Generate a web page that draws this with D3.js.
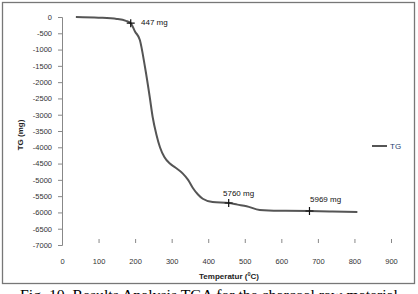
<!DOCTYPE html>
<html><head><meta charset="utf-8">
<script src="https://cdn.jsdelivr.net/npm/d3@7"></script>
<style>body{margin:0;background:#fff}svg{display:block}</style>
</head><body>
<svg id="c" width="418" height="294"></svg>
<script>
const temps = [38,100,150,175,188,200,213,227,240,248,258,268,280,295,310,330,345,358,372,385,412,456,480,505,541,595,677,740,808];
const tg    = [0,-20,-60,-120,-190,-450,-706,-1535,-2456,-3070,-3600,-4000,-4300,-4500,-4620,-4800,-5000,-5250,-5450,-5580,-5680,-5710,-5760,-5810,-5925,-5950,-5956,-5970,-5985];
const markerT = [188,456,677];
const markerV = [-190,-5710,-5956];
const markerLabels = ["447 mg","5760 mg","5969 mg"];
const xTicks = [0,100,200,300,400,500,600,700,800,900];
const yTicks = [0,-500,-1000,-1500,-2000,-2500,-3000,-3500,-4000,-4500,-5000,-5500,-6000,-6500,-7000];
const seriesName = "TG";
const xTitle = "Temperatur (";
const yTitle = "TG (mg)";
const caption = "Fig. 10. Results Analysis TGA for the charcoal raw material";

const svg = d3.select("#c");
const x = d3.scaleLinear().domain([0,900]).range([62,391]);
const y = d3.scaleLinear().domain([0,-7000]).range([17,245]);
const font = "'Liberation Sans', Arial, sans-serif";

svg.append("rect").attr("x",2.5).attr("y",2.5).attr("width",412).attr("height",281)
  .attr("fill","none").attr("stroke","#777").attr("stroke-width",1.3);

// y axis
const ya = svg.append("g").attr("transform","translate(62,0)")
  .call(d3.axisLeft(y).tickValues(yTicks).tickSize(4).tickPadding(6).tickFormat(d=>d));
ya.selectAll("path").attr("stroke","#888");
ya.selectAll("line").attr("stroke","#888");
ya.selectAll("text").attr("font-family",font).attr("font-size",7.5).attr("fill","#333");

// x ticks (no axis line)
const xa = svg.append("g").attr("transform","translate(0,243)")
  .call(d3.axisBottom(x).tickValues(xTicks).tickSize(4).tickPadding(12).tickFormat(d=>d));
xa.select("path").remove();
xa.selectAll("line").attr("stroke","#888").attr("transform","translate(0,-4)");
xa.selectAll("text").attr("font-family",font).attr("font-size",7.5).attr("fill","#333");

// titles
const xt = svg.append("text").attr("x",229).attr("y",279).attr("text-anchor","middle")
  .attr("font-family",font).attr("font-size",8).attr("font-weight","bold").attr("fill","#222");
xt.append("tspan").text(xTitle);
xt.append("tspan").attr("dy",-3).attr("font-size",5.5).text("0");
xt.append("tspan").attr("dy",3).text("C)");

svg.append("text").attr("transform","translate(23,135) rotate(-90)").attr("text-anchor","middle")
  .attr("font-family",font).attr("font-size",8).attr("font-weight","bold").attr("fill","#222").text(yTitle);

// line
const line = d3.line().x((d,i)=>x(temps[i])).y(d=>y(d)).curve(d3.curveMonotoneX);
svg.append("path").datum(tg).attr("d",line).attr("fill","none").attr("stroke","#555").attr("stroke-width",2);

// markers
markerT.forEach((t,i)=>{
  const px = x(t), py = y(markerV[i]);
  svg.append("path").attr("d",`M${px-4},${py}H${px+4}M${px},${py-4}V${py+4}`).attr("stroke","#111").attr("stroke-width",1.2);
});
const labelPos = [[141,25],[223,196],[310,202]];
markerLabels.forEach((t,i)=>{
  svg.append("text").attr("x",labelPos[i][0]).attr("y",labelPos[i][1])
    .attr("font-family",font).attr("font-size",8).attr("fill","#111").text(t);
});

// legend
svg.append("line").attr("x1",372).attr("x2",387).attr("y1",146).attr("y2",146).attr("stroke","#555").attr("stroke-width",2);
svg.append("text").attr("x",390).attr("y",149).attr("font-family",font).attr("font-size",8).attr("fill","#1f3f6f").text(seriesName);

// caption
svg.append("text").attr("x",20).attr("y",300).attr("font-family","'Liberation Serif','Times New Roman',serif")
  .attr("font-size",15).attr("fill","#000").attr("textLength",378).attr("lengthAdjust","spacingAndGlyphs").text(caption);
</script>
</body></html>
